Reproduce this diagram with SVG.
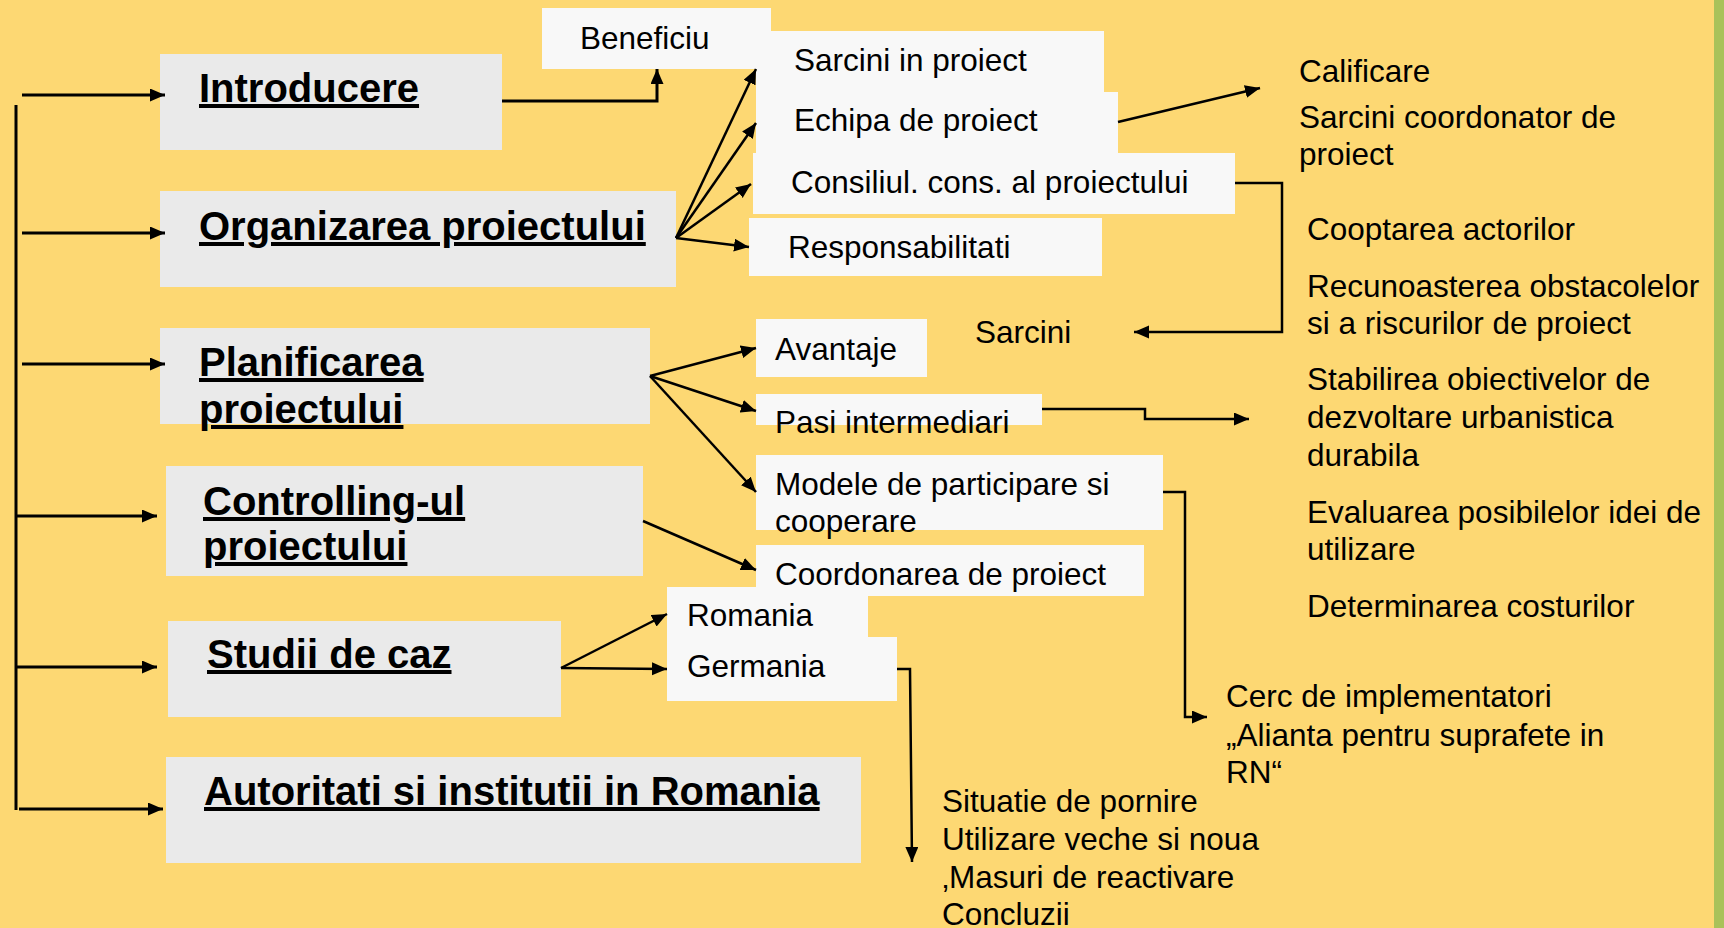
<svg xmlns="http://www.w3.org/2000/svg" width="1724" height="928" viewBox="0 0 1724 928">
<style>
.hb{fill:#EAEAEA}
.sb{fill:#F8F8F8}
.h{font-family:"Liberation Sans",Arial,sans-serif;font-weight:bold;font-size:40px;fill:#000;text-decoration:underline;text-decoration-thickness:4px;text-underline-offset:5px}
.t{font-family:"Liberation Sans",Arial,sans-serif;font-size:31.5px;fill:#000}
.c{fill:none;stroke:#000;stroke-width:3;marker-end:url(#ah)}
.c2{fill:none;stroke:#000;stroke-width:2.5;marker-end:url(#ah)}
</style>
<defs>
<marker id="ah" markerUnits="userSpaceOnUse" markerWidth="16" markerHeight="14" refX="15" refY="6.5" orient="auto">
<path d="M0,0 L15,6.5 L0,13 z" fill="#000"/>
</marker>
</defs>
<rect width="1724" height="928" fill="#FDD873"/>
<rect x="1714" y="0" width="10" height="928" fill="#A9C25A"/>

<g id="n-introducere"><rect class="hb" x="160" y="54" width="342" height="96"/><text class="h" x="199" y="102">Introducere</text></g>
<g id="n-organizarea"><rect class="hb" x="160" y="191" width="516" height="96"/><text class="h" x="199" y="240">Organizarea proiectului</text></g>
<g id="n-planificarea"><rect class="hb" x="160" y="328" width="490" height="96"/><text class="h" x="199" y="376">Planificarea</text><text class="h" x="199" y="423">proiectului</text></g>
<g id="n-controlling"><rect class="hb" x="166" y="466" width="477" height="110"/><text class="h" x="203" y="515">Controlling-ul</text><text class="h" x="203" y="560">proiectului</text></g>
<g id="n-studii"><rect class="hb" x="168" y="621" width="393" height="96"/><text class="h" x="207" y="668">Studii de caz</text></g>
<g id="n-autoritati"><rect class="hb" x="166" y="757" width="695" height="106"/><text class="h" x="204" y="805">Autoritati si institutii in Romania</text></g>

<g id="n-sarcini-proiect"><rect class="sb" x="756" y="31" width="348" height="61"/><text class="t" x="794" y="71">Sarcini in proiect</text></g>
<g id="n-beneficiu"><rect class="sb" x="542" y="8" width="229" height="61"/><text class="t" x="580" y="49">Beneficiu</text></g>
<g id="n-echipa"><rect class="sb" x="756" y="92" width="362" height="61"/><text class="t" x="794" y="131">Echipa de proiect</text></g>
<g id="n-consiliul"><rect class="sb" x="753" y="153" width="482" height="61"/><text class="t" x="791" y="193">Consiliul. cons. al proiectului</text></g>
<g id="n-resp"><rect class="sb" x="749" y="218" width="353" height="58"/><text class="t" x="788" y="258">Responsabilitati</text></g>
<g id="n-avantaje"><rect class="sb" x="756" y="319" width="171" height="58"/><text class="t" x="775" y="360">Avantaje</text></g>
<g id="n-pasi"><rect class="sb" x="756" y="394" width="286" height="31"/><text class="t" x="775" y="433">Pasi intermediari</text></g>
<g id="n-modele"><rect class="sb" x="756" y="455" width="407" height="75"/><text class="t" x="775" y="495">Modele de participare si</text><text class="t" x="775" y="532">cooperare</text></g>
<g id="n-coordonarea"><rect class="sb" x="756" y="545" width="388" height="51"/><text class="t" x="775" y="585">Coordonarea de proiect</text></g>
<g id="n-romania"><rect class="sb" x="667" y="587" width="201" height="50"/><text class="t" x="687" y="626">Romania</text></g>
<g id="n-germania"><rect class="sb" x="667" y="637" width="230" height="64"/><text class="t" x="687" y="677">Germania</text></g>

<g id="n-calificare"><text class="t" x="1299" y="82">Calificare</text><text class="t" x="1299" y="128">Sarcini coordonator de</text><text class="t" x="1299" y="165">proiect</text></g>
<g id="n-sarcini"><text class="t" x="975" y="343">Sarcini</text></g>
<g id="n-lista"><text class="t" x="1307" y="240">Cooptarea actorilor</text>
<text class="t" x="1307" y="297">Recunoasterea obstacolelor</text>
<text class="t" x="1307" y="334">si a riscurilor de proiect</text>
<text class="t" x="1307" y="390">Stabilirea obiectivelor de</text>
<text class="t" x="1307" y="428">dezvoltare urbanistica</text>
<text class="t" x="1307" y="466">durabila</text>
<text class="t" x="1307" y="523">Evaluarea posibilelor idei de</text>
<text class="t" x="1307" y="560">utilizare</text>
<text class="t" x="1307" y="617">Determinarea costurilor</text></g>
<g id="n-cerc"><text class="t" x="1226" y="707">Cerc de implementatori</text><text class="t" x="1226" y="746">„Alianta pentru suprafete in</text><text class="t" x="1226" y="783">RN“</text></g>
<g id="n-situatie"><text class="t" x="942" y="812">Situatie de pornire</text><text class="t" x="942" y="850">Utilizare veche si noua</text><text class="t" x="942" y="888">‚Masuri de reactivare</text><text class="t" x="942" y="925">Concluzii</text></g>

<g id="connectors">
<line x1="16" y1="105" x2="16" y2="810" stroke="#000" stroke-width="3"/>
<path class="c" d="M22,95 H165"/>
<path class="c" d="M22,233 H165"/>
<path class="c" d="M22,364 H165"/>
<path class="c" d="M16,516 H157"/>
<path class="c" d="M16,667 H157"/>
<path class="c" d="M19,809 H163"/>
<path class="c" d="M502,101 H657 V69"/>
<path class="c2" d="M676,238 L756,69"/>
<path class="c2" d="M676,238 L756,123"/>
<path class="c2" d="M676,238 L751,184"/>
<path class="c2" d="M676,238 L749,247"/>
<path class="c2" d="M1118,122 L1260,88"/>
<path class="c2" d="M1235,183 H1282 V332 H1134"/>
<path class="c2" d="M650,376 L756,348"/>
<path class="c2" d="M650,376 L756,411"/>
<path class="c2" d="M650,376 L756,492"/>
<path class="c2" d="M1042,409 H1145 V419 H1249"/>
<path class="c2" d="M643,521 L756,570"/>
<path class="c2" d="M1163,492 H1185 V717 H1207"/>
<path class="c2" d="M561,668 L667,614"/>
<path class="c2" d="M561,668 L667,669"/>
<path class="c2" d="M897,669 H910 L912,862"/>
</g>
</svg>
